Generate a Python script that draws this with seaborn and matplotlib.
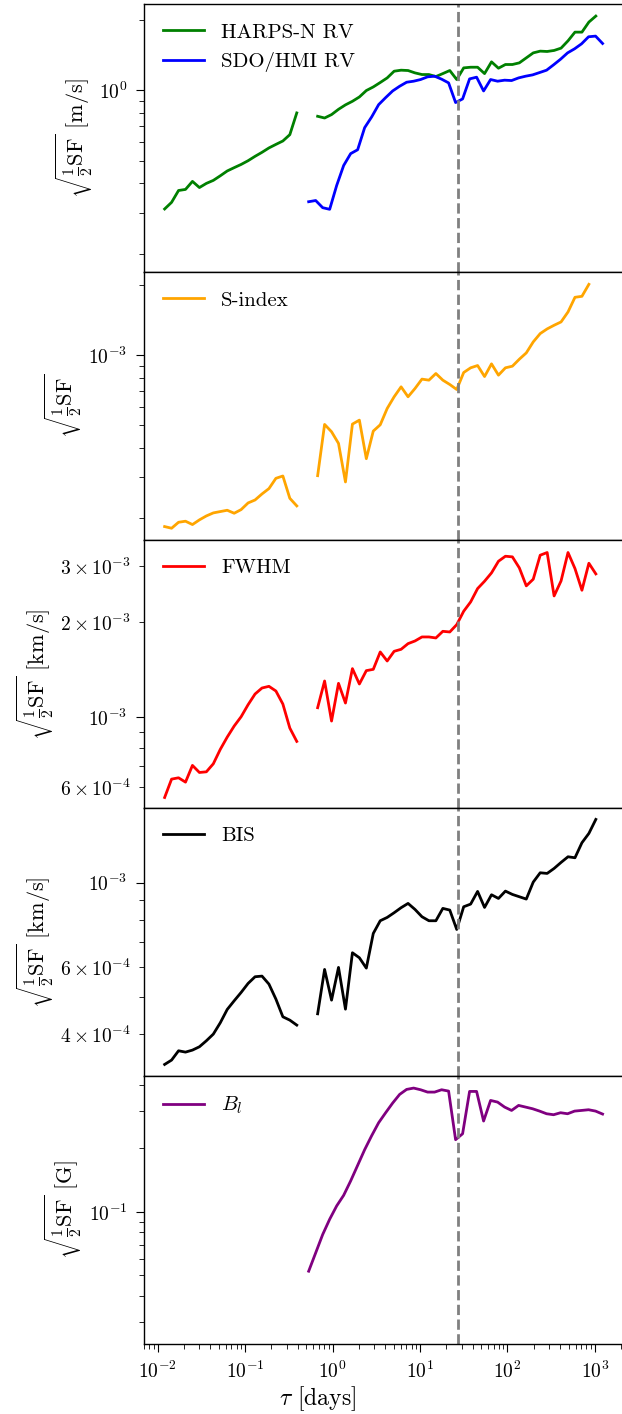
import numpy as np
import pandas as pd
import matplotlib
matplotlib.use('Agg')
import matplotlib.pyplot as plt
import seaborn as sns

nan = np.nan

# lag grids (days)
tau_harps = [0.01205, 0.01447, 0.01738, 0.02087, 0.02506, 0.0301, 0.03614, 0.0434, 0.05212, 0.06259,
             0.07516, 0.09026, 0.1084, 0.1302, 0.1563, 0.1877, 0.2254, 0.2707, 0.3251, 0.3904,
             0.4688, 0.5629, 0.6761, 0.8119, 0.975, 1.171, 1.406, 1.689, 2.028, 2.435,
             2.924, 3.512, 4.217, 5.064, 6.081, 7.303, 8.77, 10.53, 12.65, 15.19,
             18.24, 21.9, 26.3, 31.59, 37.93, 45.55, 54.7, 65.69, 78.89, 94.73,
             113.8, 136.6, 164.1, 197.0, 236.6, 284.1, 341.2, 409.7, 492.0, 590.9,
             709.6, 852.1, 1023.0]
tau_sdo = [0.534, 0.642, 0.772, 0.928, 1.116, 1.341, 1.612, 1.938, 2.330, 2.802,
           3.368, 4.049, 4.867, 5.851, 7.034, 8.457, 10.16, 12.22, 14.69, 17.66,
           21.23, 25.52, 30.69, 36.89, 44.36, 53.33, 64.12, 77.09, 92.68, 111.4,
           134.0, 161.1, 193.6, 232.8, 279.9, 336.5, 404.6, 486.4, 584.8, 703.1,
           845.3, 1016.0, 1222.0]

# sqrt(SF/2) values
rv_harps = [0.311, 0.332, 0.373, 0.377, 0.408, 0.384, 0.400, 0.412, 0.431, 0.452,
            0.467, 0.482, 0.500, 0.522, 0.543, 0.567, 0.587, 0.607, 0.646, 0.800,
            nan, nan, 0.774, 0.761, 0.787, 0.829, 0.866, 0.897, 0.936, 0.997,
            1.033, 1.079, 1.129, 1.206, 1.218, 1.214, 1.186, 1.167, 1.167, 1.144,
            1.178, 1.214, 1.111, 1.246, 1.254, 1.254, 1.178, 1.322, 1.242, 1.288,
            1.288, 1.309, 1.375, 1.444, 1.469, 1.464, 1.479, 1.513, 1.626, 1.771,
            1.771, 1.955, 2.074]
rv_sdo = [0.334, 0.338, 0.315, 0.310, 0.392, 0.477, 0.536, 0.557, 0.692, 0.769,
          0.868, 0.930, 0.993, 1.040, 1.082, 1.093, 1.111, 1.141, 1.148, 1.115,
          1.075, 0.886, 0.918, 1.118, 1.137, 0.993, 1.111, 1.093, 1.104, 1.100,
          1.129, 1.148, 1.163, 1.190, 1.218, 1.284, 1.357, 1.444, 1.503, 1.579,
          1.692, 1.703, 1.584]
s_index = np.array([0.1841, 0.1811, 0.1921, 0.1941, 0.1878, 0.1967, 0.2045, 0.2107, 0.2135, 0.2163,
                    0.2100, 0.2177, 0.2325, 0.2394, 0.2541, 0.2679, 0.2965, 0.3034, 0.2434, 0.2258,
                    nan, nan, 0.3043, 0.5048, 0.4696, 0.4185, 0.2860, 0.5064, 0.5267, 0.3599,
                    0.4727, 0.5031, 0.5910, 0.6633, 0.7318, 0.6633, 0.7199, 0.7897, 0.7816, 0.8347,
                    0.7816, 0.7489, 0.7128, 0.8430, 0.8829, 0.9032, 0.8101, 0.9182, 0.8212, 0.8829,
                    0.8973, 0.9613, 1.0233, 1.1405, 1.2382, 1.2966, 1.3442, 1.3891, 1.5329, 1.7715,
                    1.7891, 2.0137, nan]) * 1e-3
fwhm = np.array([0.5564, 0.6361, 0.6423, 0.6223, 0.7030, 0.6677, 0.6709, 0.7113, 0.7900, 0.8641,
                 0.9365, 1.0025, 1.0942, 1.1828, 1.2357, 1.2509, 1.2090, 1.0995, 0.9229, 0.8374,
                 nan, nan, 1.0704, 1.3006, 0.9712, 1.2785, 1.1075, 1.4230, 1.2722, 1.4025,
                 1.4158, 1.6069, 1.5046, 1.6147, 1.6384, 1.7076, 1.7411, 1.7927, 1.7927, 1.7796,
                 1.8679, 1.8589, 1.9613, 2.1624, 2.3142, 2.5506, 2.6910, 2.8598, 3.1126, 3.2285,
                 3.2137, 2.9659, 2.6013, 2.7308, 3.2527, 3.3168, 2.4173, 2.6969, 3.3168, 2.9512,
                 2.5196, 3.0677, 2.8387]) * 1e-3
bis = np.array([0.3336, 0.3425, 0.3623, 0.3594, 0.3638, 0.3712, 0.3849, 0.4007, 0.4291, 0.4651,
                0.4901, 0.5155, 0.5443, 0.5667, 0.5689, 0.5420, 0.4951, 0.4449, 0.4360, 0.4231,
                nan, nan, 0.4530, 0.5923, 0.4920, 0.5996, 0.4659, 0.6551, 0.6356, 0.5970,
                0.7362, 0.7949, 0.8110, 0.8344, 0.8601, 0.8826, 0.8511, 0.8144, 0.7949, 0.7949,
                0.8565, 0.8478, 0.7542, 0.8650, 0.8790, 0.9490, 0.8615, 0.9300, 0.9096, 0.9508,
                0.9319, 0.9190, 0.9061, 1.0040, 1.0622, 1.0580, 1.0904, 1.1308, 1.1700, 1.1630,
                1.2735, 1.3474, 1.4663]) * 1e-3
bl_sdo = [0.0523, 0.0639, 0.0781, 0.0923, 0.1068, 0.1199, 0.1403, 0.1664, 0.1974, 0.2300,
          0.2651, 0.2957, 0.3286, 0.3612, 0.3815, 0.3871, 0.3801, 0.3705, 0.3705, 0.3801,
          0.3746, 0.2202, 0.2350, 0.3732, 0.3732, 0.2700, 0.3382, 0.3321, 0.3145, 0.3032,
          0.3203, 0.3145, 0.3088, 0.3010, 0.2924, 0.2893, 0.2957, 0.2924, 0.3010, 0.3032,
          0.3055, 0.3010, 0.2914]

p_rot = 27.0

plt.rcParams['font.family'] = 'serif'
plt.rcParams['font.serif'] = ['cmr10', 'DejaVu Serif']
plt.rcParams['mathtext.fontset'] = 'cm'
plt.rcParams['axes.formatter.use_mathtext'] = True
plt.rcParams['font.size'] = 14
plt.rcParams['axes.labelsize'] = 16
plt.rcParams['xtick.labelsize'] = 14
plt.rcParams['ytick.labelsize'] = 14
plt.rcParams['axes.linewidth'] = 1.0
plt.rcParams['xtick.major.size'] = 6
plt.rcParams['ytick.major.size'] = 6
plt.rcParams['xtick.minor.size'] = 3.5
plt.rcParams['ytick.minor.size'] = 3.5
plt.rcParams['xtick.major.pad'] = 6
plt.rcParams['ytick.major.pad'] = 6
plt.rcParams['xtick.minor.pad'] = 6
plt.rcParams['ytick.minor.pad'] = 6


def draw(ax, tau, vals, color, label):
    df = pd.DataFrame({'tau': tau, 'val': vals})
    df['seg'] = df['val'].isna().cumsum()
    df = df.dropna()
    first = True
    for _, part in df.groupby('seg'):
        sns.lineplot(data=part, x='tau', y='val', ax=ax, color=color, lw=2,
                     estimator=None, label=label if first else None, legend=False)
        first = False


fig = plt.figure(figsize=(6.22, 14.14), dpi=100)
gs = fig.add_gridspec(5, 1, left=0.2315, right=1.003, top=0.997, bottom=0.0495, hspace=0)
axes = gs.subplots(sharex=True)

sqrt_lab = r'$\sqrt{\frac{1}{2}\mathrm{SF}}$'
panels = [
    [(tau_harps, rv_harps, 'green', 'HARPS-N RV'), (tau_sdo, rv_sdo, 'blue', 'SDO/HMI RV')],
    [(tau_harps, s_index, 'orange', 'S-index')],
    [(tau_harps, fwhm, 'red', 'FWHM')],
    [(tau_harps, bis, 'black', 'BIS')],
    [(tau_sdo, bl_sdo, 'purple', r'$B_l$')],
]
ylabels = [sqrt_lab + ' [m/s]', sqrt_lab, sqrt_lab + ' [km/s]', sqrt_lab + ' [km/s]', sqrt_lab + ' [G]']
ylims = [(0.167, 2.33), (1.61e-4, 2.27e-3), (5.15e-4, 3.63e-3), (3.11e-4, 1.57e-3), (0.0236, 0.4415)]

for ax, series, ylab, yl in zip(axes, panels, ylabels, ylims):
    ax.set_xscale('log')
    ax.set_yscale('log')
    for tau, vals, color, label in series:
        draw(ax, tau, vals, color, label)
    ax.axvline(p_rot, color='gray', ls='--', lw=2)
    ax.set_ylim(*yl)
    ax.set_ylabel(ylab, labelpad=3)
    ax.set_xlabel('')
    ax.legend(loc='upper left', frameon=False, fontsize=15)

for ax in axes[:-1]:
    ax.tick_params(axis='x', which='both', bottom=False)

axes[-1].set_xlim(0.0070, 2140)
axes[-1].set_xlabel(r'$\tau$ [days]', fontsize=17)
axes[-1].xaxis.set_label_coords(0.3625, -0.152)

fig.savefig('out.png', dpi=100)
